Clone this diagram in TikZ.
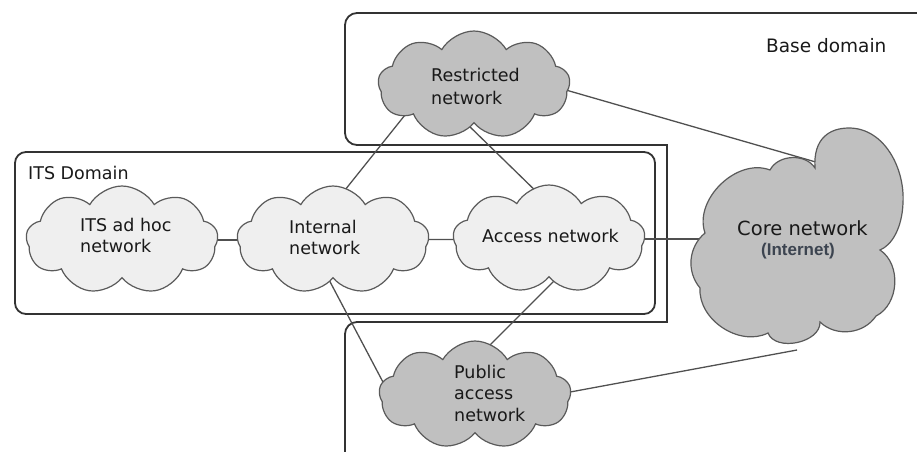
\documentclass[tikz,border=0pt]{standalone}
\usepackage{fontspec}
\setmainfont{DejaVu Sans}
\newfontfamily\arialfont{Liberation Sans}
\usetikzlibrary{shapes.symbols,backgrounds,calc}

\definecolor{lightcloud}{HTML}{EFEFEF}
\definecolor{darkcloud}{HTML}{C0C0C0}
\definecolor{cloudline}{HTML}{5A5A5A}
\definecolor{wire}{HTML}{505050}
\definecolor{boxline}{HTML}{333333}
\definecolor{inetcol}{HTML}{3C4450}

\begin{document}
\begin{tikzpicture}[x=1pt,y=-1pt,
  cloudbase/.style={cloud, cloud puffs=9, cloud puff arc=120, cloud ignores aspect,
    minimum width=192pt, minimum height=108pt, inner sep=0pt, draw=cloudline, line width=1.2pt},
  lightc/.style={cloudbase, fill=lightcloud},
  darkc/.style={cloudbase, fill=darkcloud},
  lbl/.style={anchor=base west, inner sep=0pt, align=left,
    font=\fontsize{17.5}{21}\selectfont, text=black!90},
  wireline/.style={draw=wire, line width=1.3pt},
  frame/.style={draw=boxline, line width=1.8pt},
  corecloud/.style={draw=cloudline, fill=darkcloud, line width=1.2pt}
]
\useasboundingbox (0,0) rectangle (917,451);

% clouds
\node[lightc] (adhoc) at (122,240) {};
\node[lightc] (int) at (333,240) {};
\node[lightc] (acc) at (549,239) {};
\node[darkc] (res) at (474,85) {};
\node[darkc] (pub) at (475,395) {};
\coordinate (core) at (798,239);
\path[corecloud] (815,168)
  .. controls (813,138) and (830,128) .. (849,128)
  .. controls (884,128) and (905,168) .. (903,203)
  .. controls (902,228) and (892,245) .. (880,250)
  to[bend left=60] (876,316)
  to[bend left=50] (820,322)
  to[bend left=80] (768,333)
  to[bend left=60] (700,288)
  to[bend left=45] (705,233)
  to[bend left=65] (770,170)
  to[bend left=60] (815,168) -- cycle;

% texts (anchored at the baseline of the last line)
\node[lbl] (adhocT) at (80,252) {ITS ad hoc\\network};
\node[lbl] (intT) at (289,254) {Internal\\network};
\node[lbl] (accT) at (482,242) {Access network};
\node[lbl, font=\fontsize{17.5}{23}\selectfont] (resT) at (431,104) {Restricted\\network};
\node[lbl, font=\fontsize{17.5}{21.5}\selectfont] (pubT) at (454,421) {Public\\access\\network};
\node[lbl, font=\fontsize{19.5}{22}\selectfont] (coreT) at (737,235) {Core network};
\node[anchor=base west, inner sep=0pt, text=inetcol,
  font=\arialfont\bfseries\fontsize{17}{19}\selectfont] (inetT) at (761,255) {(Internet)};
\node[lbl] (itsT) at (28,179) {ITS Domain};
\node[lbl, font=\fontsize{18.5}{22}\selectfont] (baseT) at (766,52) {Base domain};

\begin{scope}[on background layer]
  % domain frames
  \draw[frame, rounded corners=12] (667,145) -- (345,145) -- (345,13) -- (945,13);
  \draw[frame, rounded corners=12] (945,13) -- (945,470) -- (345,470) -- (345,322) -- (667,322);
  \draw[frame, line cap=rect] (667,145) -- (667,322);
  \draw[frame, rounded corners=11] (15,152) rectangle (655,314);
  % connectors
  \draw[wireline] (adhoc.center) -- (int.center);
  \draw[wireline] (int.center) -- (acc.center);
  \draw[wireline] (acc.center) -- (core);
  \draw[wireline] ($(int)+(-28,0)$) -- ($(res)+(-45,0)$);
  \draw[wireline] ($(res)+(-47,0)$) -- ($(acc)+(36,0)$);
  \draw[wireline] ($(int)+(-25,0)$) -- ($(pub)+(-72,25)$);
  \draw[wireline] ($(acc)+(47,0)$) -- ($(pub)+(-35,0)$);
  \draw[wireline] ($(res)+(26,-14)$) -- ($(core)+(42,-70)$);
  \draw[wireline] ($(pub)+(25,10)$) -- ($(core)+(-1,111)$);
\end{scope}
\end{tikzpicture}
\end{document}
